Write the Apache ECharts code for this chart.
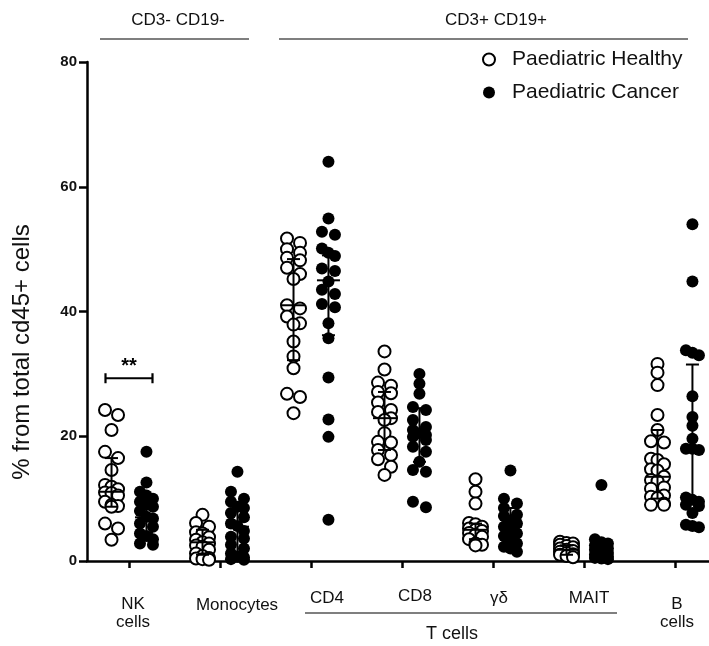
<!DOCTYPE html>
<html>
<head>
<meta charset="utf-8">
<script src="https://cdn.jsdelivr.net/npm/echarts@6/dist/echarts.min.js"></script>
<style>
  html, body { margin: 0; padding: 0; background: #fff; }
  #chart { width: 709px; height: 646px; }
</style>
</head>
<body>
<div id="chart"></div>
<script>
// ---- data ----------------------------------------------------------------
const categories = ['NK\ncells', 'Monocytes', 'CD4', 'CD8', 'γδ', 'MAIT', 'B\ncells'];
const yTicks = [0, 20, 40, 60, 80];
const seriesNames = ['Paediatric Healthy', 'Paediatric Cancer'];
const groupLabels = ['CD3- CD19-', 'CD3+ CD19+', 'T cells'];
const yTitle = '% from total cd45+ cells';
const sigText = '**';

// % of CD45+ cells per donor
const healthyNK   = [24.2, 23.4, 21.0, 17.5, 16.5, 14.6, 12.2, 11.9, 11.5, 11.0, 10.9, 10.5, 9.5, 9.0, 8.8, 8.7, 6.0, 5.2, 3.4];
const cancerNK    = [17.5, 12.6, 11.1, 10.5, 10.0, 9.5, 9.0, 8.7, 8.0, 7.1, 6.8, 6.0, 5.5, 4.4, 4.0, 3.5, 2.8, 2.6];
const healthyMono = [7.4, 6.1, 5.5, 4.6, 4.4, 3.8, 3.4, 3.0, 2.8, 2.5, 2.3, 1.8, 1.2, 0.8, 0.5, 0.4, 0.3, 0.2];
const cancerMono  = [14.3, 11.1, 10.0, 9.5, 8.7, 8.5, 7.7, 7.0, 6.0, 5.6, 4.8, 3.9, 3.6, 2.6, 2.0, 1.2, 0.7, 0.6, 0.3, 0.2];
const healthyCD4  = [51.7, 51.0, 50.0, 49.4, 48.6, 48.2, 47.0, 46.0, 45.2, 41.0, 40.5, 39.2, 38.1, 37.9, 35.2, 32.8, 30.9, 26.8, 26.3, 23.7];
const cancerCD4   = [64.0, 54.9, 52.8, 52.3, 50.1, 49.4, 48.9, 46.9, 46.5, 44.8, 43.5, 42.8, 41.2, 40.7, 38.1, 35.7, 29.4, 22.7, 19.9, 6.6];
const healthyCD8  = [33.6, 30.7, 28.6, 28.1, 27.1, 26.9, 25.4, 24.2, 23.9, 22.9, 22.6, 20.5, 19.1, 19.0, 17.8, 17.0, 16.3, 15.1, 13.8];
const cancerCD8   = [30.0, 28.4, 26.8, 24.7, 24.2, 22.6, 21.5, 21.0, 20.5, 20.2, 19.9, 19.4, 18.3, 17.5, 15.9, 14.6, 14.3, 9.5, 8.6];
const healthyGD   = [13.1, 11.1, 9.2, 6.1, 5.9, 5.5, 5.2, 5.0, 4.8, 4.5, 4.2, 3.9, 3.5, 2.8, 2.6, 2.5];
const cancerGD    = [14.5, 10.0, 9.2, 8.5, 7.4, 7.2, 6.5, 6.0, 5.5, 5.0, 4.4, 4.0, 3.5, 2.8, 2.3, 2.0, 1.5];
const healthyMAIT = [3.1, 2.9, 2.8, 2.6, 2.4, 2.2, 2.0, 1.8, 1.6, 1.5, 1.3, 1.1, 1.0, 0.8, 0.6];
const cancerMAIT  = [12.2, 3.5, 3.0, 2.8, 2.5, 2.3, 2.0, 1.8, 1.5, 1.3, 1.0, 0.8, 0.7, 0.5, 0.4, 0.3];
const healthyB    = [31.6, 30.2, 28.2, 23.4, 21.0, 19.2, 19.0, 16.4, 16.2, 15.5, 14.7, 14.5, 13.5, 13.0, 12.8, 11.8, 11.6, 10.5, 10.3, 10.1, 9.2, 9.0, 9.0];
const cancerB     = [54.0, 44.8, 33.8, 33.4, 33.0, 26.4, 23.1, 21.7, 19.6, 18.0, 18.0, 17.8, 10.2, 9.8, 9.5, 9.0, 8.8, 7.7, 5.8, 5.6, 5.4];

const healthyValues = [healthyNK, healthyMono, healthyCD4, healthyCD8, healthyGD, healthyMAIT, healthyB];
const cancerValues  = [cancerNK, cancerMono, cancerCD4, cancerCD8, cancerGD, cancerMAIT, cancerB];

// median and interquartile range per group
const healthyMedian = [11.1, 3.0, 41.0, 22.9, 5.0, 1.8, 13.5];
const healthyLow    = [8.7, 1.0, 32.2, 17.8, 3.5, 1.0, 10.0];
const healthyHigh   = [16.5, 5.0, 48.4, 27.1, 6.0, 2.5, 21.0];
const cancerMedian  = [7.0, 5.5, 45.0, 20.5, 5.5, 1.5, 18.0];
const cancerLow     = [4.5, 1.5, 36.2, 15.9, 2.5, 0.7, 9.5];
const cancerHigh    = [10.0, 9.0, 49.0, 24.5, 8.5, 2.5, 31.5];

// ---- layout / style --------------------------------------------------------
const FONT = '"Liberation Sans", Arial, Helvetica, sans-serif';
const X_MIN = -0.4615, X_MAX = 6.374;
const GROUP_SHIFT = 0.192;      // healthy left of tick, cancer right
const LANE_PX = 6.5;            // horizontal step between swarm lanes
const ROW_PX = 8;               // points closer than this share a row
const SYMBOL = 12;
const BRACKET_LEVEL = 29.3;     // height of the NK significance bracket
// label centre: [dx from tick, y in px]
const labelPlace = [[4, 613], [17, 605], [16, 598], [13, 596], [6, 598], [5, 598], [2, 613]];

const chart = echarts.init(document.getElementById('chart'), null, { renderer: 'canvas' });

chart.setOption({
  animation: false,
  grid: { left: 87, top: 62, right: 0, bottom: 85 },
  xAxis: {
    type: 'value', min: X_MIN, max: X_MAX,
    splitLine: { show: false },
    axisLine: { show: true, onZero: false, lineStyle: { color: '#000', width: 2.5 } },
    axisTick: { show: true, customValues: categories.map((_, i) => i), length: 7, lineStyle: { color: '#000', width: 2.5 } },
    axisLabel: { show: false }
  },
  yAxis: {
    type: 'value', min: yTicks[0], max: yTicks[yTicks.length - 1], interval: 20,
    splitLine: { show: false },
    axisLine: { show: true, onZero: false, lineStyle: { color: '#000', width: 2.5 } },
    axisTick: { show: true, length: 8, lineStyle: { color: '#000', width: 2.5 } },
    axisLabel: { fontFamily: FONT, fontWeight: 'bold', fontSize: 15, color: '#111', margin: 10 }
  }
});

const origin = chart.convertToPixel({ gridIndex: 0 }, [0, 0]);
const unit = chart.convertToPixel({ gridIndex: 0 }, [1, 1]);
const pxPerX = unit[0] - origin[0];
const pxPerY = origin[1] - unit[1];

// Row-based swarm: nearby values share a row and spread over up to three lanes
function swarm(values, center) {
  const sorted = values.slice().sort((a, b) => b - a);
  const out = [];
  let i = 0;
  while (i < sorted.length) {
    const row = [sorted[i]];
    let j = i + 1;
    while (j < sorted.length && row.length < 3 && (sorted[i] - sorted[j]) * pxPerY < ROW_PX) {
      row.push(sorted[j]);
      j++;
    }
    const lanes = row.length === 1 ? [0] : row.length === 2 ? [-1, 1] : [-1, 0, 1];
    row.forEach((v, k) => out.push([center + lanes[k] * LANE_PX / pxPerX, v]));
    i = j;
  }
  return out;
}

const healthyPoints = [];
const cancerPoints = [];
const summary = [];
categories.forEach((_, i) => {
  healthyPoints.push(...swarm(healthyValues[i], i - GROUP_SHIFT));
  cancerPoints.push(...swarm(cancerValues[i], i + GROUP_SHIFT));
  summary.push([i - GROUP_SHIFT, healthyMedian[i], healthyLow[i], healthyHigh[i]]);
  summary.push([i + GROUP_SHIFT, cancerMedian[i], cancerLow[i], cancerHigh[i]]);
});

function renderSummary(params, api) {
  const x = api.value(0);
  const mid = api.coord([x, api.value(1)]);
  const lo = api.coord([x, api.value(2)]);
  const hi = api.coord([x, api.value(3)]);
  const style = { stroke: '#000', lineWidth: 2 };
  const seg = (x1, y1, x2, y2) => ({ type: 'line', shape: { x1, y1, x2, y2 }, style });
  return {
    type: 'group',
    children: [
      seg(mid[0], lo[1], mid[0], hi[1]),
      seg(mid[0] - 6.5, lo[1], mid[0] + 6.5, lo[1]),
      seg(mid[0] - 6.5, hi[1], mid[0] + 6.5, hi[1]),
      seg(mid[0] - 11.5, mid[1], mid[0] + 11.5, mid[1])
    ]
  };
}

function renderBracket(params, api) {
  const c = api.coord([api.value(0), api.value(1)]);
  const half = 23.5;
  const style = { stroke: '#000', lineWidth: 2.2 };
  return {
    type: 'group',
    children: [
      { type: 'line', shape: { x1: c[0] - half, y1: c[1], x2: c[0] + half, y2: c[1] }, style },
      { type: 'line', shape: { x1: c[0] - half, y1: c[1] - 5, x2: c[0] - half, y2: c[1] + 5 }, style },
      { type: 'line', shape: { x1: c[0] + half, y1: c[1] - 5, x2: c[0] + half, y2: c[1] + 5 }, style },
      { type: 'text', style: { text: sigText, x: c[0], y: c[1] - 12, align: 'center', verticalAlign: 'middle',
          font: 'bold 20px ' + FONT, fill: '#000' } }
    ]
  };
}

// category labels under the ticks, axis title and the group headings
const graphics = [];
categories.forEach((name, i) => {
  const tx = chart.convertToPixel({ gridIndex: 0 }, [i, 0])[0];
  graphics.push({
    type: 'text', silent: true,
    style: { text: name, x: tx + labelPlace[i][0], y: labelPlace[i][1], align: 'center', verticalAlign: 'middle',
      font: '17px ' + FONT, lineHeight: 18, fill: '#111' }
  });
});
graphics.push(
  { type: 'text', silent: true, x: 22, y: 352, rotation: Math.PI / 2,
    style: { text: yTitle, x: 0, y: 0, align: 'center', verticalAlign: 'middle', font: '24px ' + FONT, fill: '#111' } },
  { type: 'text', silent: true, style: { text: groupLabels[0], x: 178, y: 20, align: 'center', verticalAlign: 'middle', font: '17px ' + FONT, fill: '#111' } },
  { type: 'line', silent: true, shape: { x1: 100, y1: 39, x2: 249, y2: 39 }, style: { stroke: '#555', lineWidth: 1.5 } },
  { type: 'text', silent: true, style: { text: groupLabels[1], x: 496, y: 20, align: 'center', verticalAlign: 'middle', font: '17px ' + FONT, fill: '#111' } },
  { type: 'line', silent: true, shape: { x1: 279, y1: 39, x2: 688, y2: 39 }, style: { stroke: '#555', lineWidth: 1.5 } },
  { type: 'line', silent: true, shape: { x1: 305, y1: 613, x2: 617, y2: 613 }, style: { stroke: '#555', lineWidth: 1.5 } },
  { type: 'text', silent: true, style: { text: groupLabels[2], x: 452, y: 634, align: 'center', verticalAlign: 'middle', font: '18px ' + FONT, fill: '#111' } }
);

chart.setOption({
  legend: {
    orient: 'vertical', left: 477, top: 44, itemGap: 12,
    itemWidth: 12, itemHeight: 12,
    textStyle: { fontFamily: FONT, fontSize: 21, color: '#111', padding: [0, 0, 0, 12] },
    data: [{ name: seriesNames[0], icon: 'circle' }, { name: seriesNames[1], icon: 'circle' }]
  },
  graphic: graphics,
  series: [
    {
      name: seriesNames[0], type: 'scatter', symbol: 'circle', symbolSize: SYMBOL, z: 2,
      itemStyle: { color: '#fff', borderColor: '#000', borderWidth: 2, opacity: 1 },
      data: healthyPoints
    },
    {
      name: seriesNames[1], type: 'scatter', symbol: 'circle', symbolSize: SYMBOL, z: 3,
      itemStyle: { color: '#000', opacity: 1 },
      data: cancerPoints
    },
    {
      type: 'custom', z: 5, silent: true, renderItem: renderSummary,
      encode: { x: 0, y: [1, 2, 3] }, data: summary
    },
    {
      type: 'custom', z: 5, silent: true, renderItem: renderBracket,
      encode: { x: 0, y: 1 }, data: [[0, BRACKET_LEVEL]]
    }
  ]
});
</script>
</body>
</html>
